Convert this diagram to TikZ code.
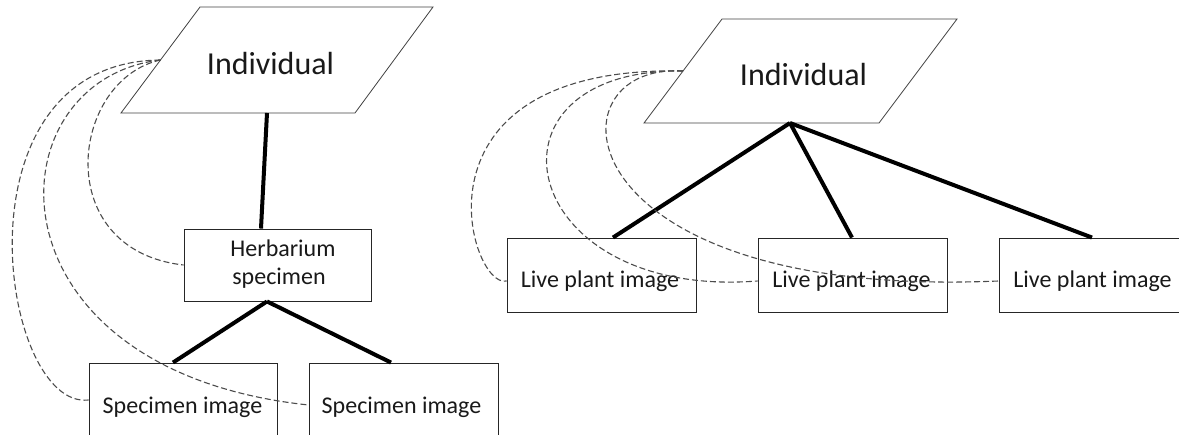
\documentclass[tikz,border=0pt]{standalone}
\usepackage{fontspec}
\setmainfont{Carlito}
\begin{document}
\begin{tikzpicture}[x=1pt,y=-1pt,
  boxst/.style={draw=black!85,line width=0.9pt,inner sep=0pt,minimum width=189pt,minimum height=74pt},
  lbl/.style={anchor=base,inner sep=0pt,text=black!90,font=\fontsize{24}{28}\selectfont},
  bigl/.style={anchor=base,inner sep=0pt,text=black!90,font=\fontsize{32}{38}\selectfont},
  para/.style={draw=black!75,line width=0.8pt},
  heavy/.style={line width=4pt},
  dashlink/.style={draw=black!70,line width=1.1pt,dash pattern=on 6pt off 3pt}]
\useasboundingbox (0,0) rectangle (1179,435);
% ---------- left tree ----------
\coordinate (p1a) at (200,7);
\coordinate (p1b) at (433,7);
\coordinate (p1c) at (355,113);
\coordinate (p1d) at (121,113);
\draw[para] (p1a) -- (p1b) -- (p1c) -- (p1d) -- cycle;
\node[bigl] (ind1) at (270.5,75) {Individual};
\coordinate (ind1w) at (160.5,60);
\coordinate (ind1s) at (267,113);
\node[boxst,minimum width=187pt,minimum height=72pt] (herb) at (277.5,265) {};
\node[lbl] (herbt1) at (283,257) {Herbarium};
\node[lbl] (herbt2) at (279,285) {specimen};
\node[boxst,minimum width=188pt] (spec1) at (183,400) {};
\node[lbl] (spec1t) at (182.5,414) {Specimen image};
\node[boxst] (spec2) at (403.5,400) {};
\node[lbl] (spec2t) at (401.5,414) {Specimen image};
\draw[heavy] (ind1s) -- ([xshift=-16.5pt]herb.north);
\draw[heavy] ([xshift=-10.5pt]herb.south) -- ([xshift=-10pt]spec1.north);
\draw[heavy] ([xshift=-10.5pt]herb.south) -- ([xshift=-12.5pt]spec2.north);
% ---------- right tree ----------
\coordinate (p2a) at (722,19);
\coordinate (p2b) at (957,19);
\coordinate (p2c) at (879,123);
\coordinate (p2d) at (644,123);
\draw[para] (p2a) -- (p2b) -- (p2c) -- (p2d) -- cycle;
\node[bigl] (ind2) at (803.5,86) {Individual};
\coordinate (ind2w) at (683,71);
\coordinate (ind2s) at (790,123);
\node[boxst] (live1) at (601.5,275) {};
\node[lbl] (live1t) at (600,288) {Live plant image};
\node[boxst] (live2) at (852.5,275) {};
\node[lbl] (live2t) at (851.5,288) {Live plant image};
\node[boxst] (live3) at (1093.5,275) {};
\node[lbl] (live3t) at (1092.5,288) {Live plant image};
\draw[heavy] (ind2s) -- ([xshift=11.5pt]live1.north);
\draw[heavy] (ind2s) -- ([xshift=-0.5pt]live2.north);
\draw[heavy] (ind2s) -- ([xshift=-1.5pt]live3.north);
% ---------- dashed links ----------
\draw[dashlink] (ind1w) .. controls (70,80) and (50,250) .. (herb.west);
\draw[dashlink] (ind1w) .. controls (-10,80) and (-20,370) .. ([yshift=-5pt]spec2.west);
\draw[dashlink] (ind1w) .. controls (-50,62) and (0,410) .. (spec1.west);
\draw[dashlink] (ind2w) .. controls (400,65) and (470,290) .. ([yshift=-6pt]live1.west);
\draw[dashlink] (ind2w) .. controls (470,68) and (515,300) .. ([yshift=-6pt]live2.west);
\draw[dashlink] (ind2w) .. controls (545,62) and (560,300) .. ([yshift=-6pt]live3.west);
\end{tikzpicture}
\end{document}
